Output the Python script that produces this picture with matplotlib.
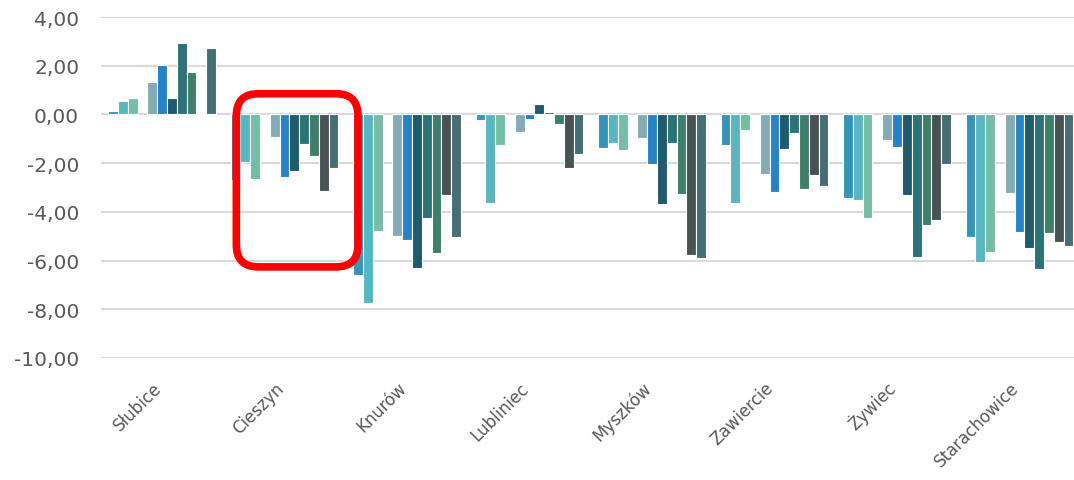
import numpy as np
import matplotlib.pyplot as plt
from matplotlib.patches import FancyBboxPatch
from matplotlib.ticker import FuncFormatter

# data
cities = ["Słubice", "Cieszyn", "Knurów", "Lubliniec", "Myszków",
          "Zawiercie", "Żywiec", "Starachowice"]

s1 = [0.15, -2.68, -6.61, -0.22, -1.39, -1.25, -3.45, -5.02]
s2 = [0.54, -1.96, -7.75, -3.62, -1.17, -3.63, -3.51, -6.05]
s3 = [0.69, -2.64, -4.80, -1.24, -1.47, -0.64, -4.24, -5.65]
s4 = [np.nan] * 8  # empty series, leaves a gap in every group
s5 = [1.35, -0.93, -5.00, -0.71, -0.98, -2.44, -1.06, -3.21]
s6 = [2.04, -2.58, -5.17, -0.18, -2.02, -3.18, -1.32, -4.82]
s7 = [0.69, -2.31, -6.31, 0.41, -3.67, -1.40, -3.29, -5.49]
s8 = [2.93, -1.22, -4.26, 0.12, -1.16, -0.75, -5.87, -6.35]
s9 = [1.73, -1.70, -5.68, -0.40, -3.27, -3.08, -4.56, -4.88]
s10 = [0.04, -3.13, -3.29, -2.21, -5.77, -2.48, -4.35, -5.23]
s11 = [2.72, -2.18, -5.04, -1.63, -5.88, -2.92, -2.03, -5.42]

series = [s1, s2, s3, s4, s5, s6, s7, s8, s9, s10, s11]
colors = ["#3494BA", "#58B6C0", "#75BDA7", "#7A8C8E", "#84ACB6", "#2683C6",
          "#1F5A6E", "#2C7377", "#3E7F69", "#485356", "#466E75"]

yticks = np.arange(-10, 5, 2)


def main():
    fig = plt.figure(figsize=(10.74, 4.81), dpi=100)
    ax = fig.add_axes([100.75 / 1074, 1 - 359 / 481, 980 / 1074, 341 / 481])

    x = np.arange(len(cities))
    n = len(series)
    w = 0.08
    for i, (vals, c) in enumerate(zip(series, colors)):
        ax.bar(x + (i - (n - 1) / 2) * w, vals, width=w, color=c,
               edgecolor="white", linewidth=0.8, zorder=3)

    ax.set_xlim(-0.5, len(cities) - 0.5)
    ax.set_ylim(-10, 4)
    ax.set_yticks(yticks)
    ax.yaxis.set_major_formatter(
        FuncFormatter(lambda v, p: f"{v:.2f}".replace(".", ",")))
    ax.grid(axis="y", color="#D9D9D9", linewidth=1.5, zorder=0)
    ax.set_axisbelow(True)
    for sp in ax.spines.values():
        sp.set_visible(False)

    ax.set_xticks(x)
    ax.set_xticklabels(cities, rotation=45, ha="right", va="baseline",
                       rotation_mode="anchor", fontsize=12)
    ax.tick_params(axis="both", length=0, labelcolor="#595959")
    ax.tick_params(axis="x", pad=22)
    ax.tick_params(axis="y", pad=15.5, labelsize=14.5)

    # red rounded frame around Cieszyn
    fig.canvas.draw()
    (x0, y0) = ax.transData.transform((0.607, -6.26))
    (x1, y1) = ax.transData.transform((1.60, 0.85))
    box = FancyBboxPatch((x0, y0), x1 - x0, y1 - y0,
                         boxstyle="round,pad=0,rounding_size=22",
                         transform=None, fill=False, edgecolor="#FF0000",
                         linewidth=5.5, zorder=10)
    fig.patches.append(box)

    fig.savefig("out.png", dpi=100)


if __name__ == "__main__":
    main()
